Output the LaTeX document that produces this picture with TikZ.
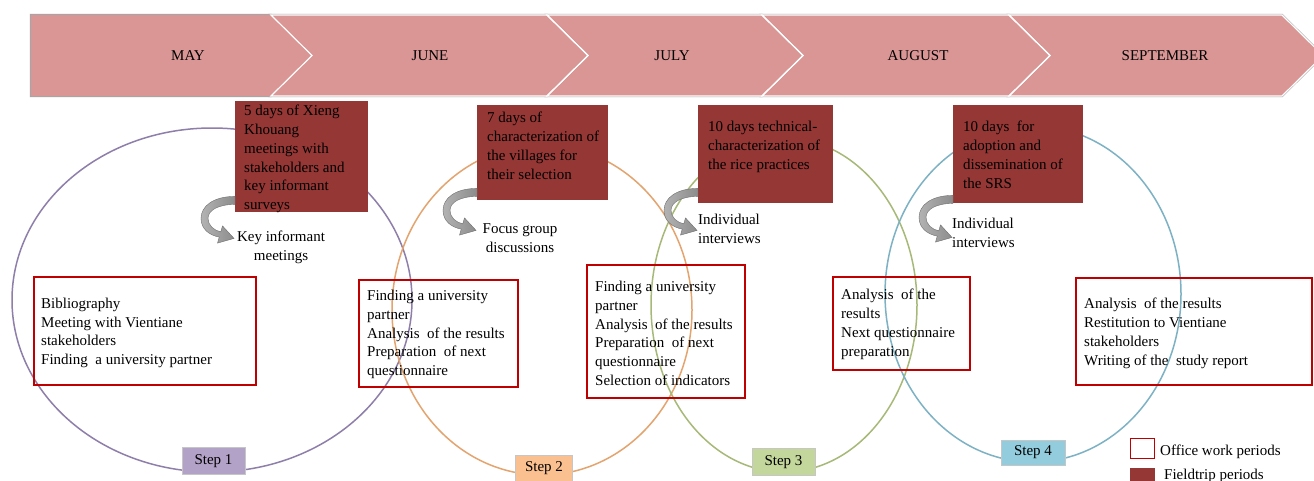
\documentclass[tikz,border=0pt]{standalone}
\usepackage{fontspec}
\setmainfont{Liberation Serif}
\usetikzlibrary{calc}

\definecolor{chev}{HTML}{D99694}
\definecolor{chevedge}{HTML}{A6A6A6}
\definecolor{field}{HTML}{953735}
\definecolor{office}{HTML}{C00000}
\definecolor{ellA}{HTML}{8E7FAA}
\definecolor{ellB}{HTML}{E3A46F}
\definecolor{ellC}{HTML}{A7B978}
\definecolor{ellD}{HTML}{7DB1C4}
\definecolor{stepA}{HTML}{B3A2C7}
\definecolor{stepB}{HTML}{FAC090}
\definecolor{stepC}{HTML}{C3D69B}
\definecolor{stepD}{HTML}{93CDDD}
\definecolor{hook}{HTML}{8C8C8C}
\definecolor{hooklight}{HTML}{B2B2B2}
\definecolor{hookedge}{HTML}{6F6F6F}

\tikzset{
  every node/.style={font=\fontsize{15}{18.8}\selectfont, text=black},
  month/.style={inner sep=0pt},
  ring/.style={line width=1.5pt},
  officebox/.style={draw=office, line width=1.8pt, anchor=north west, inner sep=0pt},
  fieldbox/.style={fill=field, anchor=north west, inner sep=0pt},
  boxtext/.style={align=left, inner sep=0pt},
  note/.style={align=center, inner sep=0pt},
  steptag/.style={draw=gray!45, line width=0.5pt, inner sep=0pt, minimum height=27pt},
  bentarrow/.pic={
    \shadedraw[left color=hooklight, right color=hook, draw=hookedge, line width=0.4pt]
      (0,0) .. controls (-22,0) and (-34,10) .. (-34,22)
      .. controls (-34,33) and (-25,39) .. (-15.75,40.7)
      -- (-17.5,46.7) -- (-1,42) -- (-12.5,29.5) -- (-14.25,35.5)
      .. controls (-21,34) and (-27,29) .. (-27,22)
      .. controls (-27,14) and (-17,8) .. (0,8) -- cycle;
  }
}

\begin{document}
\begin{tikzpicture}[x=1pt, y=-1pt]
  \fill[white] (0,0) rectangle (1314,480);
  \useasboundingbox (0,0) rectangle (1314,480);
  \clip (0,0) rectangle (1314,480);

  % month band: five chevrons
  \def\chevA{(31,15) -- (271,15) -- (312,55.5) -- (271,96) -- (31,96) -- cycle}
  \def\chevB{(271,15) -- (547,15) -- (588,55.5) -- (547,96) -- (271,96) -- (312,55.5) -- cycle}
  \def\chevC{(547,15) -- (762,15) -- (803,55.5) -- (762,96) -- (547,96) -- (588,55.5) -- cycle}
  \def\chevD{(762,15) -- (1009,15) -- (1050,55.5) -- (1009,96) -- (762,96) -- (803,55.5) -- cycle}
  \def\chevE{(1009,15) -- (1282,15) -- (1323,55.5) -- (1282,96) -- (1009,96) -- (1050,55.5) -- cycle}
  \foreach \c in {\chevA,\chevB,\chevC,\chevD,\chevE}{\draw[chevedge, line width=2.2pt] \c;}
  \foreach \c in {\chevA,\chevB,\chevC,\chevD,\chevE}{\fill[chev] \c;}
  \foreach \c in {\chevB,\chevC,\chevD,\chevE}{\draw[white, line width=1.2pt] \c;}

  \node[month] (may) at (188,55.5) {MAY};
  \node[month] (jun) at (430,55.5) {JUNE};
  \node[month] (jul) at (672,55.5) {JULY};
  \node[month] (aug) at (918,55.5) {AUGUST};
  \node[month] (sep) at (1165,55.5) {SEPTEMBER};

  % the four step cycles
  \draw[ring, ellA] (212,300) ellipse [x radius=200pt, y radius=172pt];
  \draw[ring, ellB] (542,310) ellipse [x radius=150pt, y radius=165pt];
  \draw[ring, ellC] (784,305) ellipse [x radius=133pt, y radius=167pt];
  \draw[ring, ellD] (1033,294) ellipse [x radius=148pt, y radius=168pt];

  % office work periods
  \node[officebox, minimum width=222pt, minimum height=108pt] (o1) at (33,276) {};
  \node[officebox, minimum width=159pt, minimum height=107pt] (o2) at (358,279) {};
  \node[officebox, minimum width=158pt, minimum height=133pt] (o3) at (586,264) {};
  \node[officebox, minimum width=137pt, minimum height=93pt]  (o4) at (832,276) {};
  \node[officebox, minimum width=236pt, minimum height=107pt] (o5) at (1075,277) {};

  \node[boxtext, anchor=west] (o1t) at ([xshift=8pt,yshift=-2pt]o1.west)
    {Bibliography\\Meeting with Vientiane\\stakeholders\\Finding\ \ a university partner};
  \node[boxtext, anchor=west] (o2t) at ([xshift=9pt,yshift=-1pt]o2.west)
    {Finding a university\\partner\\Analysis\ \ of the results\\Preparation\ \ of next\\questionnaire};
  \node[boxtext, anchor=west] (o3t) at ([xshift=9pt,yshift=-2pt]o3.west)
    {Finding a university\\partner\\Analysis\ \ of the results\\Preparation\ \ of next\\questionnaire\\Selection of indicators};
  \node[boxtext, anchor=west] (o4t) at ([xshift=9pt,yshift=-1pt]o4.west)
    {Analysis\ \ of the\\results\\Next questionnaire\\preparation};
  \node[boxtext, anchor=west] (o5t) at ([xshift=9pt,yshift=-2pt]o5.west)
    {Analysis\ \ of the results\\Restitution to Vientiane\\stakeholders\\Writing of the\ \ study report};

  % fieldtrip periods
  \node[fieldbox, minimum width=133pt, minimum height=111pt] (f1) at (235,101) {};
  \node[fieldbox, minimum width=131pt, minimum height=95pt]  (f2) at (477,105) {};
  \node[fieldbox, minimum width=135pt, minimum height=98pt]  (f3) at (698,105) {};
  \node[fieldbox, minimum width=130pt, minimum height=98pt]  (f4) at (953,105) {};

  \node[boxtext, anchor=north west] (f1t) at ([xshift=9pt,yshift=-4pt]f1.north west)
    {5 days of Xieng\\Khouang\\meetings with\\stakeholders and\\key informant\\surveys};
  \node[boxtext, anchor=north west] (f2t) at ([xshift=10pt,yshift=-7pt]f2.north west)
    {7 days of\\characterization of\\the villages for\\their selection};
  \node[boxtext, anchor=north west] (f3t) at ([xshift=10pt,yshift=-16pt]f3.north west)
    {10 days technical-\\characterization of\\the rice practices};
  \node[boxtext, anchor=north west] (f4t) at ([xshift=10pt,yshift=-16pt]f4.north west)
    {10 days\ \ for\\adoption and\\dissemination of\\the SRS};

  % bent arrows leading from each fieldtrip to its activity
  \coordinate (h1) at ([yshift=16pt]f1.south west);
  \coordinate (h2) at ([yshift=12pt]f2.south west);
  \coordinate (h3) at ([yshift=15pt]f3.south west);
  \coordinate (h4) at ([yshift=8pt]f4.south west);
  \pic at (h1) {bentarrow};
  \pic at (h2) {bentarrow};
  \pic at (h3) {bentarrow};
  \pic at (h4) {bentarrow};

  \node[note] (k1) at (281,247.5) {Key informant\\meetings};
  \node[note] (k2) at (520,238.5) {Focus group\\discussions};
  \node[boxtext, anchor=west] (k3) at (698,229) {Individual\\interviews};
  \node[boxtext, anchor=west] (k4) at (952,233) {Individual\\interviews};

  % step tags
  \node[steptag, fill=stepA, minimum width=63pt] (s1) at (213.5,461) {Step 1};
  \node[steptag, fill=stepB, minimum width=57pt] (s2) at (544,468.5) {Step 2};
  \node[steptag, fill=stepC, minimum width=63pt] (s3) at (783.5,462) {Step 3};
  \node[steptag, fill=stepD, minimum width=64pt, minimum height=25pt] (s4) at (1033,452.5) {Step 4};

  % legend
  \node[draw=office, fill=white, line width=1.8pt, minimum width=24pt, minimum height=20pt, inner sep=0pt] (lo) at (1142.5,448.5) {};
  \node[fill=field, minimum width=25pt, minimum height=21pt, inner sep=0pt] (lf) at (1142.5,478.5) {};
  \node[anchor=base west, inner sep=0pt] (lot) at (1160,455) {Office work periods};
  \node[anchor=base west, inner sep=0pt] (lft) at (1164,479) {Fieldtrip periods};
\end{tikzpicture}
\end{document}
